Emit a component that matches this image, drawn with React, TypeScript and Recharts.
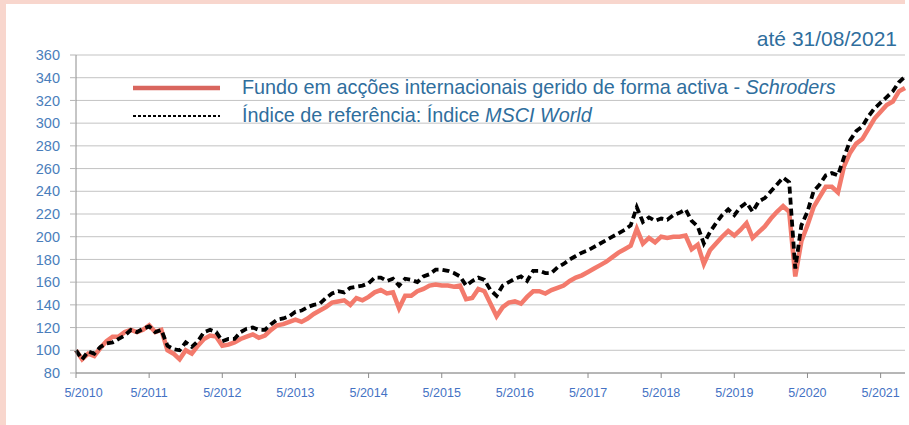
import React from "react";
import { CartesianGrid, Line, LineChart, XAxis, YAxis } from "recharts";

// month-end values, index 0 = end of April 2010 (base 100), last = 31/08/2021
const fundo = [
  100, 92, 97, 95, 102, 108, 112, 112, 116, 118, 116, 118,
  122, 116, 118, 100, 97, 92, 100, 97, 104, 110, 113, 112,
  104, 105, 107, 110, 112, 114, 111, 113, 118, 122, 123, 125,
  127, 125, 128, 132, 135, 138, 142, 143, 144, 140, 146, 144,
  147, 151, 153, 150, 151, 137, 148, 148, 152, 154, 157, 158,
  157, 157, 156, 157, 145, 146, 154, 152, 141, 130, 138, 142,
  143, 141, 147, 152, 152, 150, 153, 155, 157, 161, 164, 166,
  169, 172, 175, 178, 182, 186, 189, 192, 207, 194, 199, 195,
  200, 199, 200, 200, 201, 189, 193, 176, 188, 194, 200, 205,
  201, 206, 212, 199, 204, 209, 216, 222, 227, 222, 165, 196,
  210, 226, 235, 244, 244, 239, 262, 274, 282, 286, 295, 304,
  310, 316, 319, 328, 331,
];

const msci = [
  100, 92, 99, 97, 103, 106, 107, 110, 113, 118, 116, 119,
  121, 116, 118, 104, 101, 100, 107, 103, 108, 116, 118, 116,
  108, 110, 110, 116, 119, 120, 118, 118, 123, 127, 128, 130,
  134, 135, 138, 140, 141, 146, 150, 152, 151, 155, 156, 157,
  159, 164, 164, 161, 163, 157, 163, 162, 160, 165, 167, 171,
  171, 170, 168, 165, 157, 161, 164, 162, 153, 148, 157, 160,
  163, 165, 161, 170, 170, 168, 168, 173, 176, 180, 183, 186,
  188, 191, 194, 197, 200, 203, 206, 210, 226, 213, 217, 214,
  216, 215, 219, 221, 224, 214, 209, 194, 204, 212, 219, 224,
  219, 226, 230, 222, 231, 234, 240, 246, 252, 248, 172, 210,
  222, 240, 246, 254, 256, 254, 270, 285, 293, 297, 306, 313,
  318, 323, 328, 336, 341,
];

const xTicks = [0, 12, 24, 36, 48, 60, 72, 84, 96, 108, 120, 132];
const xLabels = ["5/2010", "5/2011", "5/2012", "5/2013", "5/2014", "5/2015", "5/2016", "5/2017", "5/2018", "5/2019", "5/2020", "5/2021"];
const yTicks = [80, 100, 120, 140, 160, 180, 200, 220, 240, 260, 280, 300, 320, 340, 360];

const data = fundo.map((v, i) => ({ m: i, fundo: v, msci: msci[i] }));

const font = '"Liberation Sans", Arial, sans-serif';
const textBlue = "#2f6e9d";

// first label is nudged right so it doesn't hang past the axis
function XTick(props: any) {
  const { x, y, payload } = props;
  const i = xTicks.indexOf(payload.value);
  return (
    <text x={x + (i === 0 ? 7.5 : 0)} y={y} dy="0.71em" textAnchor="middle" fill="#4472c4" fontSize={12.5} fontFamily={font}>
      {xLabels[i]}
    </text>
  );
}

export default function App() {
  return (
    <div style={{ position: "fixed", left: 0, top: 0, width: 909, height: 425, background: "#fff", fontFamily: font, overflow: "hidden" }}>
      <div style={{ position: "absolute", left: 0, top: 0, width: 905, height: 4, background: "#f8d6cd" }} />
      <div style={{ position: "absolute", left: 0, top: 0, width: 6, height: 425, background: "#f8d6cd" }} />
      <div style={{ position: "absolute", left: 0, top: 0 }}>
        <LineChart width={909} height={425} data={data} margin={{ top: 55, right: 4, bottom: 22, left: 6 }}>
          <CartesianGrid stroke="#c3c3c3" vertical={false} />
          <XAxis
            dataKey="m"
            type="number"
            domain={[0, 136]}
            ticks={xTicks}
            interval={0}
            height={30}
            tickSize={5}
            tickMargin={10}
            stroke="#8c8c8c"
            tick={<XTick />}
          />
          <YAxis
            domain={[80, 360]}
            ticks={yTicks}
            interval={0}
            width={70}
            tickSize={6}
            tickMargin={10}
            axisLine={{ stroke: "#8c8c8c" }}
            tickLine={{ stroke: "#b5b5b5" }}
            tick={{ fill: "#4a7ebb", fontSize: 14.5, fontFamily: font }}
          />
          <Line type="linear" dataKey="fundo" stroke="#f37a6c" strokeWidth={4.5} dot={false} isAnimationActive={false} />
          <Line type="linear" dataKey="msci" stroke="#000" strokeWidth={3.8} strokeDasharray="7 4" dot={false} isAnimationActive={false} />
        </LineChart>
      </div>
      <div style={{ position: "absolute", right: 12, top: 28, fontSize: 21, lineHeight: 1, color: textBlue, whiteSpace: "nowrap" }}>
        até 31/08/2021
      </div>
      <svg style={{ position: "absolute", left: 0, top: 0 }} width={909} height={425}>
        <line x1={133} x2={220} y1={88} y2={88} stroke="#d9665e" strokeWidth={4.5} />
        <line x1={133} x2={220} y1={116} y2={116} stroke="#000" strokeWidth={1.8} strokeDasharray="3 2" />
      </svg>
      <div style={{ position: "absolute", left: 242, top: 78, fontSize: 19.8, lineHeight: 1, color: textBlue, whiteSpace: "nowrap" }}>
        Fundo em acções internacionais gerido de forma activa - <i>Schroders</i>
      </div>
      <div style={{ position: "absolute", left: 242, top: 106, fontSize: 19.8, lineHeight: 1, color: textBlue, whiteSpace: "nowrap" }}>
        Índice de referência: Índice <i>MSCI World</i>
      </div>
    </div>
  );
}
